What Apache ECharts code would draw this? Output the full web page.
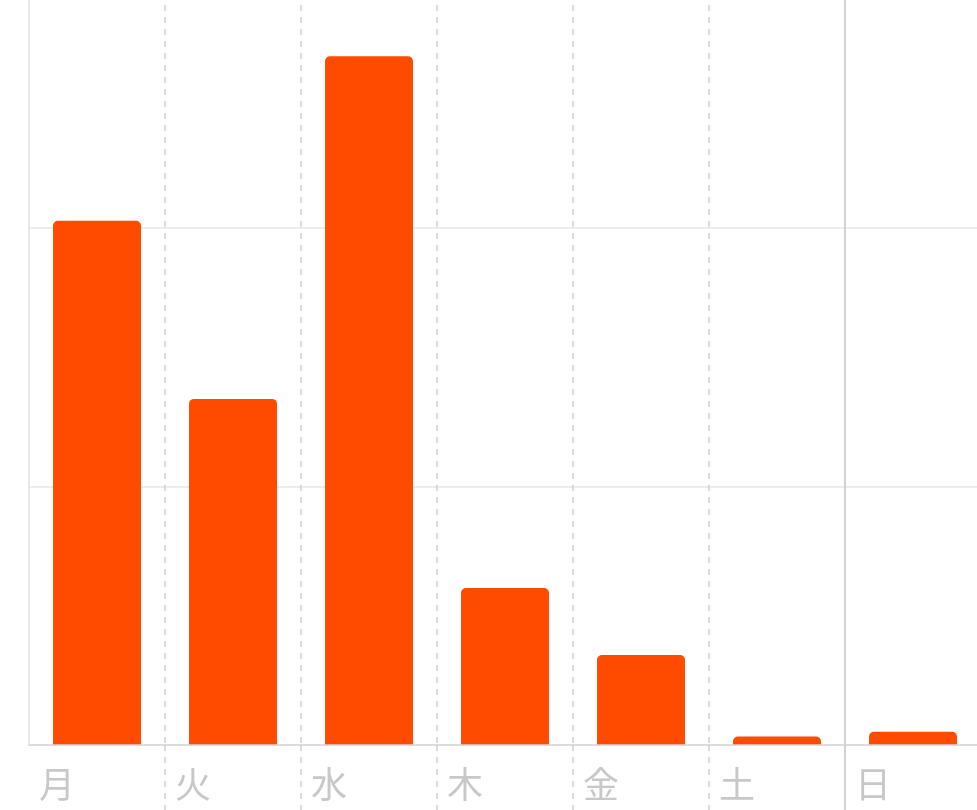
<!DOCTYPE html>
<html>
<head>
<meta charset="utf-8">
<script src="https://cdn.jsdelivr.net/npm/echarts@6/dist/echarts.min.js"></script>
<style>
html,body{margin:0;padding:0;background:#fff;overflow:hidden;width:977px;height:810px;position:relative;}
#chart{position:absolute;left:0;top:-31px;width:982px;height:841px;}
</style>
</head>
<body>
<div id="chart"></div>
<script>
const days = ['月', '火', '水', '木', '金', '土', '日'];
const values = [2027, 1338, 2663, 607, 348, 33, 51];
const yMax = 3000;
const yStep = 1000;

const boundaries = days.concat(['']);

const chart = echarts.init(document.getElementById('chart'));
chart.setOption({
  animation: false,
  backgroundColor: '#fff',
  grid: { left: 29, right: 1, top: 0, bottom: 65, containLabel: false },
  xAxis: [
    {
      type: 'category',
      data: days,
      position: 'bottom',
      z: 3,
      axisLine: { show: true, lineStyle: { color: '#d6d6d6', width: 1.5 } },
      axisTick: {
        show: true, length: 70,
        interval: function (i) { return i !== 0; },
        lineStyle: { color: '#d0d0d0', width: 1.5, type: [6, 6] }
      },
      splitLine: {
        show: true,
        interval: function (i) { return i !== 0; },
        lineStyle: { color: '#d0d0d0', width: 1.5, type: [6, 6] }
      },
      axisLabel: {
        interval: 0,
        margin: 21,
        formatter: function (v) { return '{a|' + v + '}'; },
        rich: {
          a: {
            width: 116, align: 'left',
            fontSize: 36, color: '#c8c8c8',
            fontFamily: '"Noto Sans CJK JP", sans-serif'
          }
        }
      }
    },
    {
      type: 'category',
      data: boundaries,
      boundaryGap: false,
      position: 'bottom',
      z: 4,
      axisLine: { show: false },
      axisLabel: { show: false },
      axisTick: {
        show: true, length: 70,
        interval: function (i) { return i === 6; },
        lineStyle: { color: '#d2d2d2', width: 2 }
      },
      splitLine: {
        show: true,
        interval: function (i) { return i === 6; },
        lineStyle: { color: '#d2d2d2', width: 2 }
      }
    }
  ],
  yAxis: {
    type: 'value',
    min: 0, max: yMax, interval: yStep,
    axisLine: { show: true, lineStyle: { color: '#e2e2e2', width: 1.5 } },
    axisTick: { show: false },
    axisLabel: { show: false },
    splitLine: { show: true, lineStyle: { color: '#e6e6e6', width: 1.5 } }
  },
  series: [
    {
      type: 'bar',
      data: values,
      xAxisIndex: 0,
      barWidth: 88,
      barGap: '-100%',
      silent: true,
      itemStyle: { color: '#fff', borderColor: '#fff', borderWidth: 10, borderRadius: [5, 5, 0, 0] }
    },
    {
      type: 'bar',
      data: values,
      xAxisIndex: 0,
      barWidth: 88,
      barGap: '-100%',
      itemStyle: { color: '#ff4b00', borderRadius: [5, 5, 0, 0] }
    }
  ]
});
</script>
</body>
</html>
